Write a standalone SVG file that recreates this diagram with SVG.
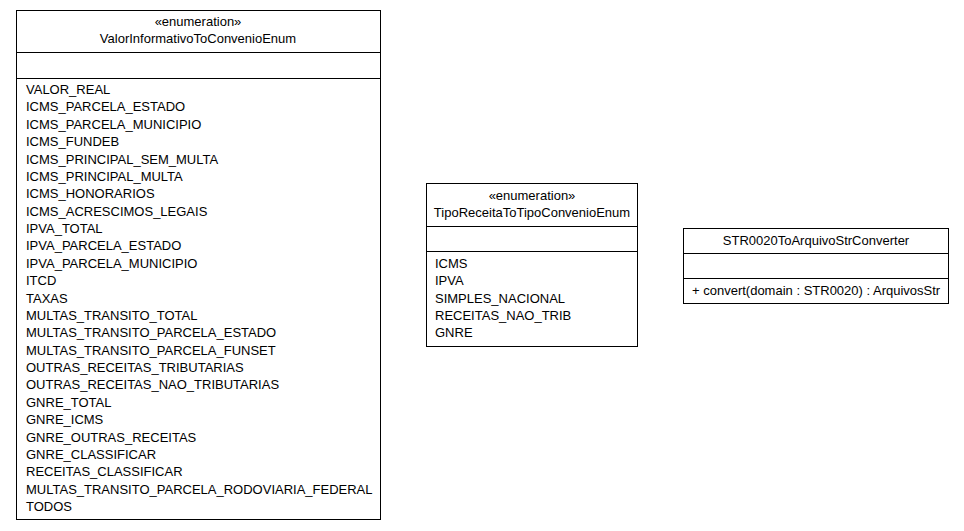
<svg xmlns="http://www.w3.org/2000/svg" width="964" height="531" viewBox="0 0 964 531">
<style>
.box{fill:#fff;stroke:#000;stroke-width:1}
.div{stroke:#000;stroke-width:1}
text{font-family:"Liberation Sans",Arial,sans-serif;font-size:13px;fill:#000}
.c{text-anchor:middle}
</style>
<rect width="964" height="531" fill="#fff"/>
<g id="ValorInformativoToConvenioEnum">
<rect class="box" x="16.5" y="10.5" width="364" height="509"/>
<line class="div" x1="16.5" y1="52.5" x2="380.5" y2="52.5"/>
<line class="div" x1="16.5" y1="78.5" x2="380.5" y2="78.5"/>
<text class="c" x="198" y="26">«enumeration»</text>
<text class="c" x="198" y="43">ValorInformativoToConvenioEnum</text>
<text x="26" y="94">VALOR_REAL</text>
<text x="26" y="111.4">ICMS_PARCELA_ESTADO</text>
<text x="26" y="128.8">ICMS_PARCELA_MUNICIPIO</text>
<text x="26" y="146.1">ICMS_FUNDEB</text>
<text x="26" y="163.5">ICMS_PRINCIPAL_SEM_MULTA</text>
<text x="26" y="180.9">ICMS_PRINCIPAL_MULTA</text>
<text x="26" y="198.3">ICMS_HONORARIOS</text>
<text x="26" y="215.6">ICMS_ACRESCIMOS_LEGAIS</text>
<text x="26" y="233">IPVA_TOTAL</text>
<text x="26" y="250.4">IPVA_PARCELA_ESTADO</text>
<text x="26" y="267.8">IPVA_PARCELA_MUNICIPIO</text>
<text x="26" y="285.1">ITCD</text>
<text x="26" y="302.5">TAXAS</text>
<text x="26" y="319.9">MULTAS_TRANSITO_TOTAL</text>
<text x="26" y="337.3">MULTAS_TRANSITO_PARCELA_ESTADO</text>
<text x="26" y="354.6">MULTAS_TRANSITO_PARCELA_FUNSET</text>
<text x="26" y="372">OUTRAS_RECEITAS_TRIBUTARIAS</text>
<text x="26" y="389.4">OUTRAS_RECEITAS_NAO_TRIBUTARIAS</text>
<text x="26" y="406.8">GNRE_TOTAL</text>
<text x="26" y="424.1">GNRE_ICMS</text>
<text x="26" y="441.5">GNRE_OUTRAS_RECEITAS</text>
<text x="26" y="458.9">GNRE_CLASSIFICAR</text>
<text x="26" y="476.3">RECEITAS_CLASSIFICAR</text>
<text x="26" y="493.6">MULTAS_TRANSITO_PARCELA_RODOVIARIA_FEDERAL</text>
<text x="26" y="511">TODOS</text>
</g>
<g id="TipoReceitaToTipoConvenioEnum">
<rect class="box" x="426.5" y="183.5" width="211" height="163"/>
<line class="div" x1="426.5" y1="226.5" x2="637.5" y2="226.5"/>
<line class="div" x1="426.5" y1="251.5" x2="637.5" y2="251.5"/>
<text class="c" x="532" y="200">«enumeration»</text>
<text class="c" x="532" y="217">TipoReceitaToTipoConvenioEnum</text>
<text x="435" y="268">ICMS</text>
<text x="435" y="285.3">IPVA</text>
<text x="435" y="302.5">SIMPLES_NACIONAL</text>
<text x="435" y="319.8">RECEITAS_NAO_TRIB</text>
<text x="435" y="337">GNRE</text>
</g>
<g id="STR0020ToArquivoStrConverter">
<rect class="box" x="683.5" y="228.5" width="265" height="75"/>
<line class="div" x1="683.5" y1="253.5" x2="948.5" y2="253.5"/>
<line class="div" x1="683.5" y1="278.5" x2="948.5" y2="278.5"/>
<text class="c" x="816" y="245">STR0020ToArquivoStrConverter</text>
<text x="692" y="295">+ convert(domain : STR0020) : ArquivosStr</text>
</g>
<g id="connectors"></g>
</svg>
